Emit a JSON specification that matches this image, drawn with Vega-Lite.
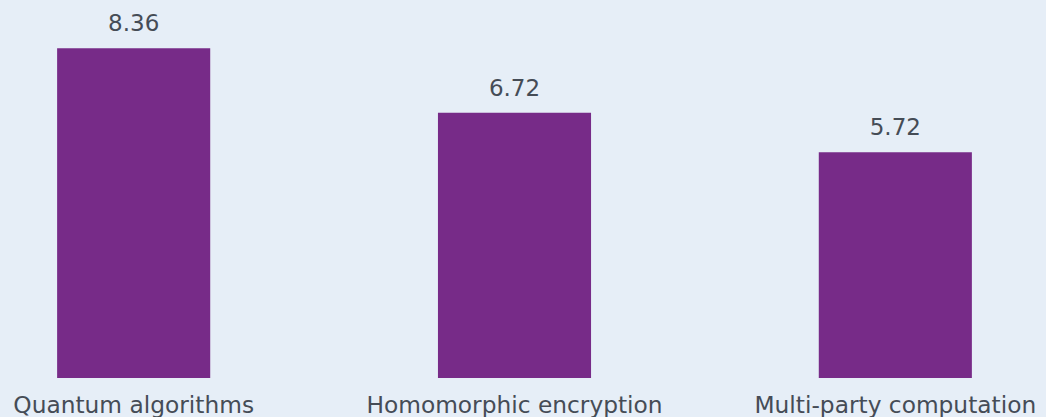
{
  "$schema": "https://vega.github.io/schema/vega-lite/v6.json",
  "width": 1029,
  "height": 378,
  "autosize": {"type": "none"},
  "padding": {"left": 0, "top": 0, "right": 17, "bottom": 39},
  "background": "#e6eef7",
  "config": {"view": {"stroke": null}, "font": "DejaVu Sans"},
  "data": {"values": [
    {"category": "Quantum algorithms", "value": 8.36},
    {"category": "Homomorphic encryption", "value": 6.72},
    {"category": "Multi-party computation", "value": 5.72}
  ]},
  "encoding": {
    "x": {"field": "category", "type": "nominal", "sort": null,
      "scale": {"paddingInner": 0.598, "paddingOuter": 0.15},
      "axis": {"title": null, "labelAngle": 0, "ticks": false, "domain": false, "labelBaseline": "alphabetic", "labelPadding": 34, "labelFontSize": 23.3, "labelColor": "#454c56", "labelFont": "DejaVu Sans", "labelLimit": 0}},
    "y": {"field": "value", "type": "quantitative", "scale": {"domain": [0, 9.58], "nice": false}, "axis": null}
  },
  "layer": [
    {"mark": {"type": "bar", "color": "#772b88"}},
    {"mark": {"type": "text", "baseline": "alphabetic", "dy": -17, "fontSize": 23, "color": "#454c56", "font": "DejaVu Sans"},
     "encoding": {"text": {"field": "value", "type": "quantitative", "format": ".2f"}}}
  ]
}
